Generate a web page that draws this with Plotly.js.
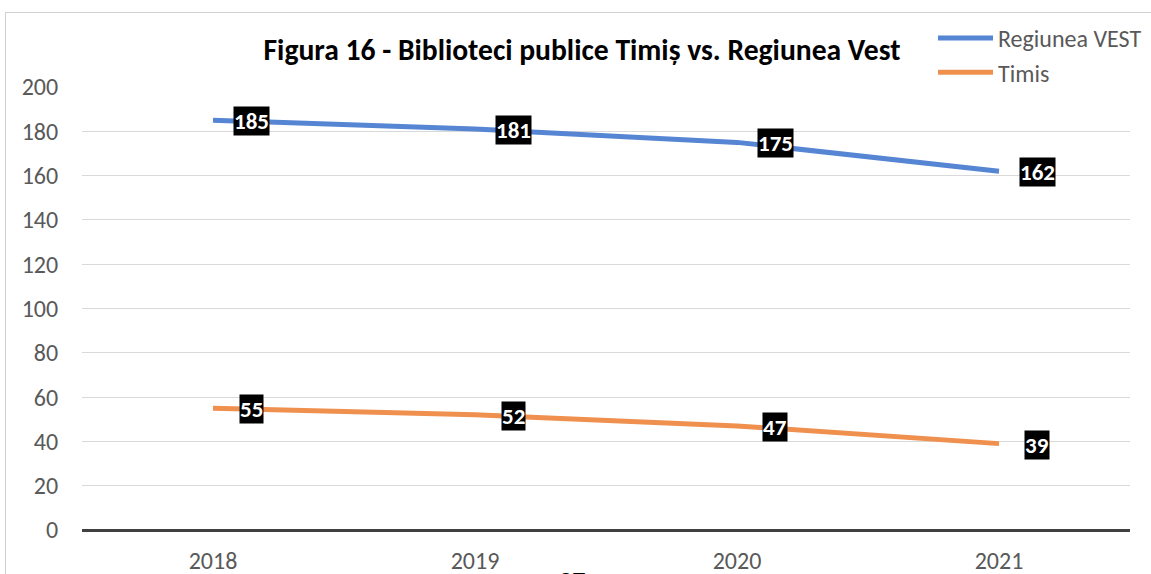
<!DOCTYPE html>
<html>
<head>
<meta charset="utf-8">
<script src="https://cdn.plot.ly/plotly-3.0.1.min.js"></script>
<style>
html,body{margin:0;padding:0;background:#fff;}
#wrap{position:relative;width:1151px;height:574px;overflow:hidden;}
#frame{position:absolute;left:5px;top:12px;width:1200px;height:700px;border:1.5px solid #d0d0d0;box-sizing:border-box;}
#chart{position:absolute;left:0;top:0;width:1151px;height:574px;}
</style>
</head>
<body>
<div id="wrap"><div id="frame"></div><div id="chart"></div></div>
<script>
const years = ['2018', '2019', '2020', '2021'];
const regiuneaVest = [185, 181, 175, 162];
const timis = [55, 52, 47, 39];
const seriesNames = ['Regiunea VEST', 'Timis'];
const titleText = 'Figura 16 - Biblioteci publice Timiș vs. Regiunea Vest';
const pageNumber = '27';

const FONT = 'Carlito, "Liberation Sans", Arial, sans-serif';
const blue = '#5585D3';
const orange = '#F0904F';

const traces = [
  {x: years, y: regiuneaVest, name: seriesNames[0], type: 'scatter', mode: 'lines',
   line: {color: blue, width: 5}},
  {x: years, y: timis, name: seriesNames[1], type: 'scatter', mode: 'lines',
   line: {color: orange, width: 5}}
];

const annotations = [];
[regiuneaVest, timis].forEach(function(vals){
  vals.forEach(function(v, i){
    annotations.push({x: i, y: v, xref: 'x', yref: 'y', text: '<b>' + v + '</b>',
      showarrow: false, xshift: 38, yshift: -1, bgcolor: '#000000',
      font: {family: FONT, size: 23, color: '#ffffff'}, borderpad: 0});
  });
});
annotations.push({xref: 'paper', yref: 'paper', x: (572-82)/1048, y: -(33/443), yanchor: 'top', xanchor: 'center',
  text: '<b>' + pageNumber + '</b>', showarrow: false, font: {family: FONT, size: 26, color: '#000'}});

const layout = {
  width: 1151, height: 574,
  margin: {l: 82, r: 21, t: 87, b: 44, autoexpand: false},
  paper_bgcolor: 'rgba(0,0,0,0)', plot_bgcolor: 'rgba(0,0,0,0)',
  font: {family: FONT, color: '#595959', size: 24},
  title: {text: '<b>' + titleText + '</b>', xref: 'container', x: 582/1151, xanchor: 'center',
    yref: 'container', y: 1 - 50/574, yanchor: 'middle',
    font: {family: FONT, size: 29.6, color: '#000000'}},
  xaxis: {type: 'category', range: [-0.5, 3.5], showgrid: false, zeroline: false,
    showline: false, ticks: 'outside', ticklen: 9, tickcolor: 'rgba(0,0,0,0)',
    tickfont: {family: FONT, size: 24, color: '#595959'}, fixedrange: true, automargin: false},
  yaxis: {range: [0, 200], dtick: 20, showgrid: true, gridcolor: '#d9d9d9', gridwidth: 1,
    zeroline: true, zerolinecolor: '#404040', zerolinewidth: 3, showline: false,
    ticks: 'outside', ticklen: 18, tickcolor: 'rgba(0,0,0,0)',
    tickfont: {family: FONT, size: 24, color: '#595959'}, fixedrange: true, automargin: false},
  showlegend: true,
  legend: {x: (933-82)/1048, xanchor: 'left', y: (530-16)/443, yanchor: 'top',
    bgcolor: '#ffffff', font: {family: FONT, size: 24, color: '#595959'},
    tracegroupgap: 0, itemwidth: 55},
  annotations: annotations
};

Plotly.newPlot('chart', traces, layout, {displayModeBar: false, staticPlot: true});
</script>
</body>
</html>
